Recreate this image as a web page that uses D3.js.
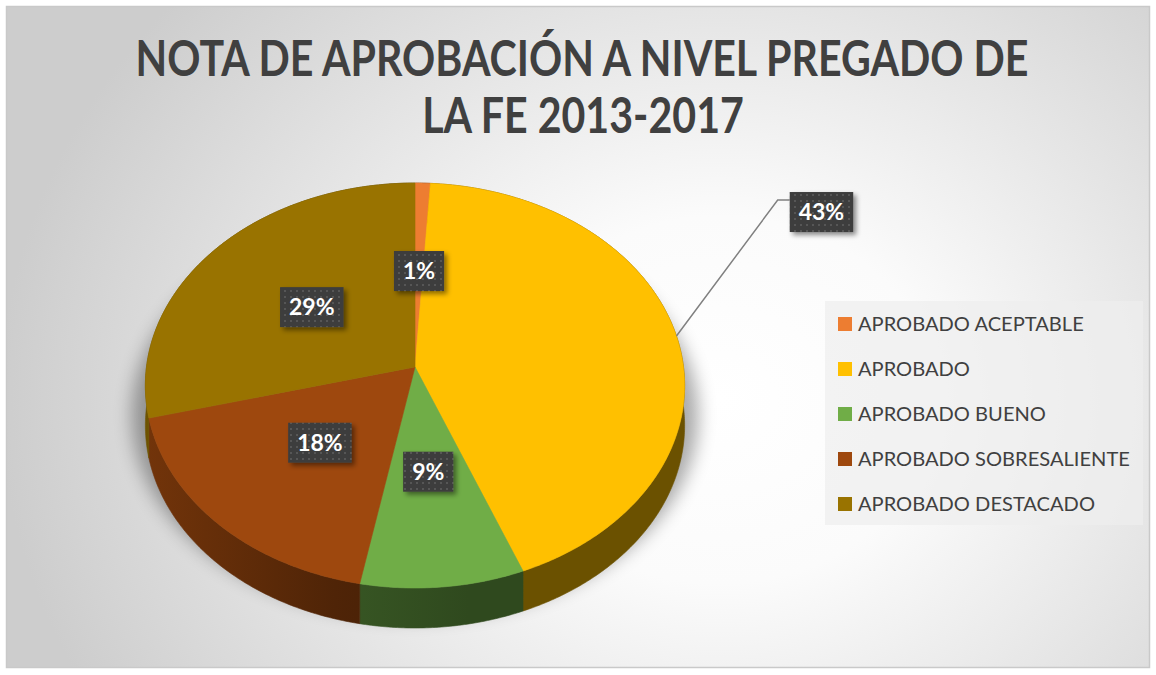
<!DOCTYPE html>
<html><head><meta charset="utf-8">
<script src="https://cdn.jsdelivr.net/npm/d3@7/dist/d3.min.js"></script>
<style>html,body{margin:0;padding:0;background:#fff;}svg{display:block;}</style>
</head><body>
<svg id="chart" width="1156" height="675"></svg>
<script>
const categories = ["APROBADO ACEPTABLE","APROBADO","APROBADO BUENO","APROBADO SOBRESALIENTE","APROBADO DESTACADO"];
const values = [1, 43, 9, 18, 29];
const labels = ["1%","43%","9%","18%","29%"];
const colors = ["#ED7D31","#FFC000","#70AD47","#9E480E","#997300"];
const titleLines = ["NOTA DE APROBACIÓN A NIVEL PREGADO DE","LA FE 2013-2017"];

const W = 1156, H = 675;
const svg = d3.select("#chart");
const defs = svg.append("defs");

// background
const bg = defs.append("radialGradient").attr("id","bgGrad")
  .attr("gradientUnits","userSpaceOnUse").attr("cx",720).attr("cy",400).attr("r",720)
  .attr("gradientTransform","translate(720,400) scale(1,0.85) translate(-720,-400)");
bg.append("stop").attr("offset","0").attr("stop-color","#ffffff");
bg.append("stop").attr("offset","0.3").attr("stop-color","#fbfbfb");
bg.append("stop").attr("offset","1").attr("stop-color","#cdcdcd");
svg.append("rect").attr("x",6.5).attr("y",6.5).attr("width",1143).attr("height",661)
  .attr("fill","url(#bgGrad)").attr("stroke","#c9c9c9").attr("stroke-width",1.5);

// title
const title = svg.append("g").attr("fill","#404040").attr("font-family","Lato, 'Open Sans', sans-serif")
  .attr("font-weight",700).attr("font-size",49).attr("text-anchor","middle");
const t1 = title.append("text").text(titleLines[0]);
const t2 = title.append("text").text(titleLines[1]);
const tw = t1.node().getComputedTextLength();
const tsx = 893 / tw;
t1.attr("transform",`translate(582,76) scale(${tsx},1)`);
t2.attr("transform",`translate(583,133) scale(${tsx},1)`);

// pie geometry (perspective projection of a tilted disc)
const CX = 415, CY = 367, A = 268.5, B = 200.8, P = 0.0914, DEPTH = 40;
function proj(theta, r){
  const c = Math.cos(theta)*r, s = Math.sin(theta)*r;
  const k = 1/(1 + P*c);
  return [CX + A*s*k, CY - B*c*k];
}
const pie = d3.pie().sort(null).value(d=>d);
const arcs = pie(values);
function rimPoints(a0, a1){
  const n = Math.max(2, Math.ceil((a1-a0)/0.01));
  const pts = [];
  for(let i=0;i<=n;i++) pts.push(proj(a0 + (a1-a0)*i/n, 1));
  return pts;
}
const line = d3.line();

// shadow
const sh = defs.append("filter").attr("id","pieShadow").attr("x","-20%").attr("y","-20%").attr("width","140%").attr("height","140%");
sh.append("feGaussianBlur").attr("stdDeviation",9);
const full = rimPoints(0, 2*Math.PI);
svg.append("path").attr("d", line(full.map(p=>[CX+(p[0]-CX)*1.05, p[1]+DEPTH*0.5+10])) + "Z")
  .attr("fill","#000").attr("opacity",0.33).attr("filter","url(#pieShadow)");

// sides
const gSides = svg.append("g");
arcs.forEach((d,i)=>{
  const g = defs.append("linearGradient").attr("id","side"+i).attr("gradientUnits","userSpaceOnUse")
    .attr("x1",CX-A).attr("x2",CX+A).attr("y1",0).attr("y2",0);
  const base = d3.rgb(colors[i]);
  const sc = f => d3.rgb(base.r*f, base.g*f, base.b*f).formatHex();
  g.append("stop").attr("offset","0").attr("stop-color",sc(0.72));
  g.append("stop").attr("offset","0.35").attr("stop-color",sc(0.5));
  g.append("stop").attr("offset","0.6").attr("stop-color",sc(0.42));
  g.append("stop").attr("offset","1").attr("stop-color",sc(0.42));
  const top = rimPoints(d.startAngle, d.endAngle);
  const pts = top.concat(top.map(p=>[p[0],p[1]+DEPTH]).reverse());
  gSides.append("path").attr("d", line(pts)+"Z").attr("fill",`url(#side${i})`)
    .attr("stroke",`url(#side${i})`).attr("stroke-width",0.6);
});

// tops
const gTops = svg.append("g");
arcs.forEach((d,i)=>{
  const pts = [[CX,CY]].concat(rimPoints(d.startAngle, d.endAngle));
  gTops.append("path").attr("d", line(pts)+"Z").attr("fill",colors[i])
    .attr("stroke",colors[i]).attr("stroke-width",0.6);
});

// data labels
const pat = defs.append("pattern").attr("id","dots").attr("patternUnits","userSpaceOnUse")
  .attr("width",6).attr("height",6);
pat.append("rect").attr("width",6).attr("height",6).attr("fill","#3d3d3d");
pat.append("rect").attr("x",2).attr("y",2).attr("width",2).attr("height",2).attr("fill","#575757");
const ds = defs.append("filter").attr("id","lblShadow").attr("x","-30%").attr("y","-30%").attr("width","170%").attr("height","170%");
ds.append("feDropShadow").attr("dx",3).attr("dy",3).attr("stdDeviation",2.5).attr("flood-color","#000").attr("flood-opacity",0.45);

const outside = {1: {dx: 145, dy: -124}};
const gLbl = svg.append("g");
arcs.forEach((d,i)=>{
  const mid = (d.startAngle + d.endAngle)/2;
  let cx, cy;
  if(outside[i]){
    const rim = proj(mid, 1);
    cx = rim[0] + outside[i].dx; cy = rim[1] + outside[i].dy;
  } else {
    [cx, cy] = proj(mid, 0.5);
  }
  const g = gLbl.append("g");
  const txt = g.append("text").text(labels[i]).attr("font-family","Lato, 'Open Sans', sans-serif")
    .attr("font-weight",700).attr("font-size",23).attr("fill","#fff").attr("text-anchor","middle")
    .attr("x",cx).attr("y",cy+8);
  const w = txt.node().getComputedTextLength() + 18, h = 40;
  g.insert("rect","text").attr("x",cx-w/2).attr("y",cy-h/2).attr("width",w).attr("height",h)
    .attr("fill","url(#dots)").attr("filter","url(#lblShadow)");
  if(outside[i]){
    const rim = proj(mid, 1);
    const bx = cx - w/2, by = cy - 12;
    gLbl.insert("path", ":first-child")
      .attr("d", line([rim, [bx-12, by], [bx, by]]))
      .attr("fill","none").attr("stroke","#808080").attr("stroke-width",1.5);
  }
});

// legend
const lg = svg.append("g");
lg.append("rect").attr("x",825).attr("y",301).attr("width",318).attr("height",224)
  .attr("fill","#eeeeee").attr("opacity",0.7);
const items = lg.selectAll("g.item").data(categories).join("g").attr("class","item")
  .attr("transform",(d,i)=>`translate(838,${331 + i*45})`);
items.append("rect").attr("x",0).attr("y",-14).attr("width",14).attr("height",14)
  .attr("fill",(d,i)=>colors[i]);
const ltexts = items.append("text").text(d=>d).attr("x",20).attr("y",0)
  .attr("font-family","Lato, 'Open Sans', sans-serif").attr("font-size",19.5).attr("fill","#404040");
const maxW = d3.max(ltexts.nodes(), n=>n.getComputedTextLength());
const lsx = 272/maxW;
ltexts.attr("transform",`translate(20,0) scale(${lsx},1) translate(-20,0)`);
</script>
</body></html>
